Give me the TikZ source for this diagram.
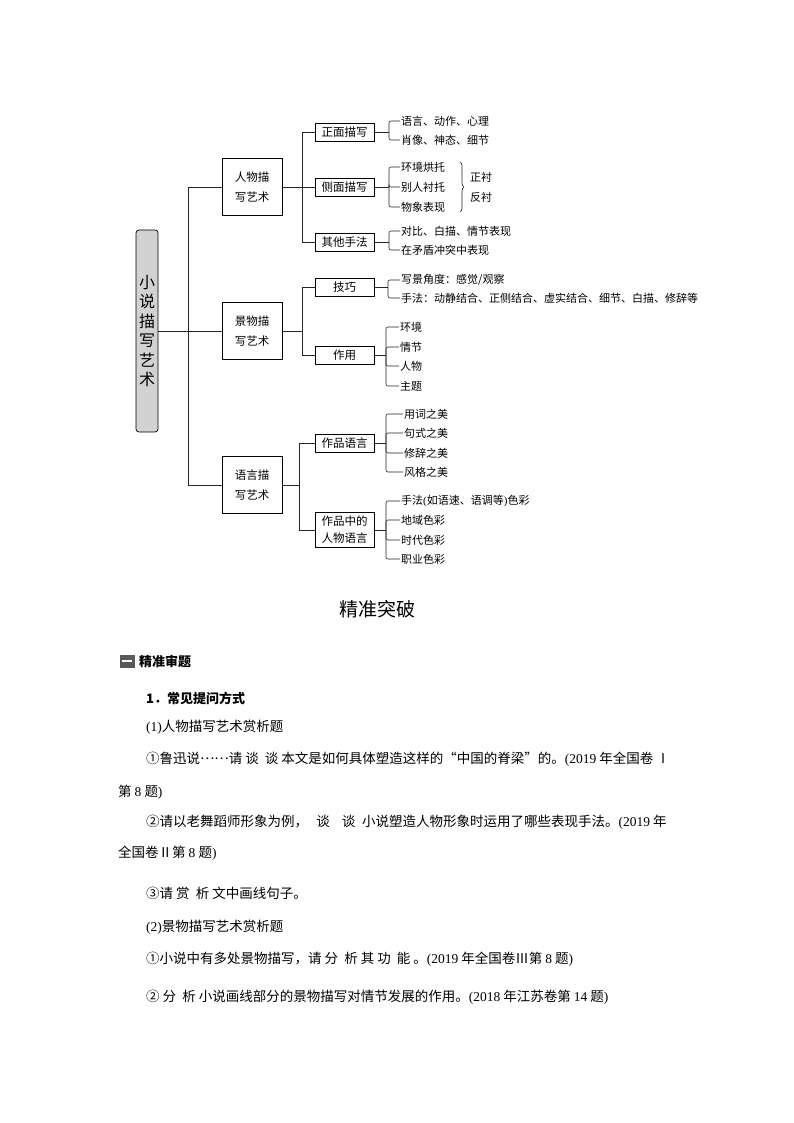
\documentclass[tikz,border=0pt]{standalone}
\usepackage{fontspec}
\setmainfont{Liberation Serif}
\newfontfamily\cjk{Noto Sans CJK SC}
\newcommand\latx[1]{{\rmfamily #1}}
\usetikzlibrary{decorations.pathreplacing}
\begin{document}
\begin{tikzpicture}[x=1pt,y=-1pt,
  conn/.style={line width=0.6pt, draw=black!85},
  brk/.style={conn, rounded corners=2pt},
  lone/.style={draw, line width=0.7pt, minimum width=60pt, minimum height=57pt, align=center, font=\cjk\fontsize{11.5}{20}\selectfont, inner sep=0pt},
  ltwo/.style={draw, line width=0.7pt, minimum width=59pt, minimum height=18pt, align=center, font=\cjk\fontsize{11.5}{17}\selectfont, inner sep=0pt},
  leaf/.style={anchor=west, inner sep=1pt, font=\cjk\fontsize{11}{12}\selectfont},
  body/.style={anchor=west, inner sep=0pt, font=\cjk\fontsize{13.5}{15}\selectfont},
]
\useasboundingbox (0,0) rectangle (794,1123);
\fill[white] (0,0) rectangle (794,1123);

% main box
\node[draw, rounded corners=3pt, fill=gray!35, line width=0.7pt, minimum width=22pt, minimum height=202pt, inner sep=0pt, align=center, font=\cjk\fontsize{16}{19.5}\selectfont] (main) at (147,331) {小\\说\\描\\写\\艺\\术};

% level 1
\node[lone] (p) at (252,187) {人物描\\写艺术};
\node[lone] (s) at (252,331) {景物描\\写艺术};
\node[lone] (y) at (252,485) {语言描\\写艺术};
\coordinate (t) at (188,331);
\draw[conn] (main.east) -- (t);
\draw[conn] (t) |- (p.west);
\draw[conn] (t) |- (y.west);
\draw[conn] (t) -- (s.west);

% level 2
\node[ltwo] (zm) at (344.5,132) {正面描写};
\node[ltwo] (cm) at (344.5,187) {侧面描写};
\node[ltwo] (qt) at (344.5,242) {其他手法};
\node[ltwo] (jq) at (344.5,287) {技巧};
\node[ltwo] (zy) at (344.5,355) {作用};
\node[ltwo] (zp) at (344.5,443) {作品语言};
\node[ltwo, minimum height=35pt] (rw) at (344.5,530) {作品中的\\人物语言};

\coordinate (pa) at (302,187);
\coordinate (sa) at (302,331);
\coordinate (ya) at (299,485);
\draw[conn] (p.east) -- (pa);
\draw[conn] (s.east) -- (sa);
\draw[conn] (y.east) -- (ya);
\draw[conn] (pa) |- (zm.west);
\draw[conn] (pa) |- (qt.west);
\draw[conn] (pa) -- (cm.west);
\draw[conn] (sa) |- (jq.west);
\draw[conn] (sa) |- (zy.west);
\draw[conn] (ya) |- (zp.west);
\draw[conn] (ya) |- (rw.west);

% leaves
\node[leaf] (a1) at (400,121) {语言、动作、心理};
\node[leaf] (a2) at (400,140) {肖像、神态、细节};
\node[leaf] (b1) at (400,167) {环境烘托};
\node[leaf] (b2) at (400,187) {别人衬托};
\node[leaf] (b3) at (400,207) {物象表现};
\node[leaf] (b4) at (469,177) {正衬};
\node[leaf] (b5) at (469,197) {反衬};
\node[leaf] (c1) at (400,231) {对比、白描、情节表现};
\node[leaf] (c2) at (400,250) {在矛盾冲突中表现};
\node[leaf] (d1) at (400,280) {写景角度：感觉/观察};
\node[leaf] (d2) at (400,298) {手法：动静结合、正侧结合、虚实结合、细节、白描、修辞等};
\node[leaf] (e1) at (399,327) {环境};
\node[leaf] (e2) at (399,347) {情节};
\node[leaf] (e3) at (399,366) {人物};
\node[leaf] (e4) at (399,386) {主题};
\node[leaf] (f1) at (403,414) {用词之美};
\node[leaf] (f2) at (403,433) {句式之美};
\node[leaf] (f3) at (403,453) {修辞之美};
\node[leaf] (f4) at (403,472) {风格之美};
\node[leaf] (g1) at (400,501) {手法\latx{(}如语速、语调等\latx{)}色彩};
\node[leaf] (g2) at (400,520) {地域色彩};
\node[leaf] (g3) at (400,540) {时代色彩};
\node[leaf] (g4) at (400,559) {职业色彩};

\coordinate (ka) at (389,132);
\coordinate (kb) at (389,187);
\coordinate (kc) at (389,242);
\coordinate (kd) at (388,287);
\coordinate (ke) at (386,355);
\coordinate (kf) at (386,443);
\coordinate (kg) at (386,530);
\draw[conn] (zm.east) -- (ka);
\draw[conn] (cm.east) -- (kb);
\draw[conn] (qt.east) -- (kc);
\draw[conn] (jq.east) -- (kd);
\draw[conn] (zy.east) -- (ke);
\draw[conn] (zp.east) -- (kf);
\draw[conn] (rw.east) -- (kg);
\foreach \k/\l in {ka/a1,ka/a2,kb/b1,kb/b2,kb/b3,kc/c1,kc/c2,kd/d1,kd/d2,ke/e1,ke/e2,ke/e3,ke/e4,kf/f1,kf/f2,kf/f3,kf/f4,kg/g1,kg/g2,kg/g3,kg/g4}
  \draw[brk] (\k) |- (\l.west);

\draw[conn, decorate, decoration={brace, amplitude=4pt}] (460,162) -- (460,212);

% lower text
\node[font=\cjk\fontsize{19}{21}\selectfont, inner sep=0pt] (title) at (377,609) {精准突破};
\node[fill=black!65, minimum width=15pt, minimum height=13pt, inner sep=0pt] (icon) at (127,661) {};
\draw[white, line width=1.6pt] ([xshift=2.5pt]icon.west) -- ([xshift=-2.5pt]icon.east);
\node[body, font=\cjk\bfseries\fontsize{13}{15}\selectfont] (hd) at (139,661) {精准审题};
\node[body, font=\cjk\bfseries\fontsize{13}{15}\selectfont] (q0) at (146,698) {1．常见提问方式};
\node[body] (q1) at (146,727) {\latx{(1)}人物描写艺术赏析题};
\node[body] (q2) at (146,759) {①鲁迅说\raisebox{0.3em}{……}请 谈 \ 谈 本文是如何具体塑造这样的“中国的脊梁”的。\latx{(2019} 年全国卷 Ⅰ};
\node[body] (q3) at (118,792) {第 \latx{8} 题\latx{)}};
\node[body] (q4) at (146,822) {②请以老舞蹈师形象为例，\hspace{0.6em}谈\hspace{0.9em}谈\hspace{0.5em}小说塑造人物形象时运用了哪些表现手法。\latx{(2019} 年};
\node[body] (q5) at (118,853) {全国卷Ⅱ第 \latx{8} 题\latx{)}};
\node[body] (q6) at (146,893) {③请 赏 \ 析 文中画线句子。};
\node[body] (q7) at (146,927) {\latx{(2)}景物描写艺术赏析题};
\node[body] (q8) at (146,959) {①小说中有多处景物描写，请 分 \ 析 其 功 \ 能 。\latx{(2019} 年全国卷Ⅲ第 \latx{8} 题\latx{)}};
\node[body] (q9) at (146,997) {② 分 \ 析 小说画线部分的景物描写对情节发展的作用。\latx{(2018} 年江苏卷第 \latx{14} 题\latx{)}};
\end{tikzpicture}
\end{document}
